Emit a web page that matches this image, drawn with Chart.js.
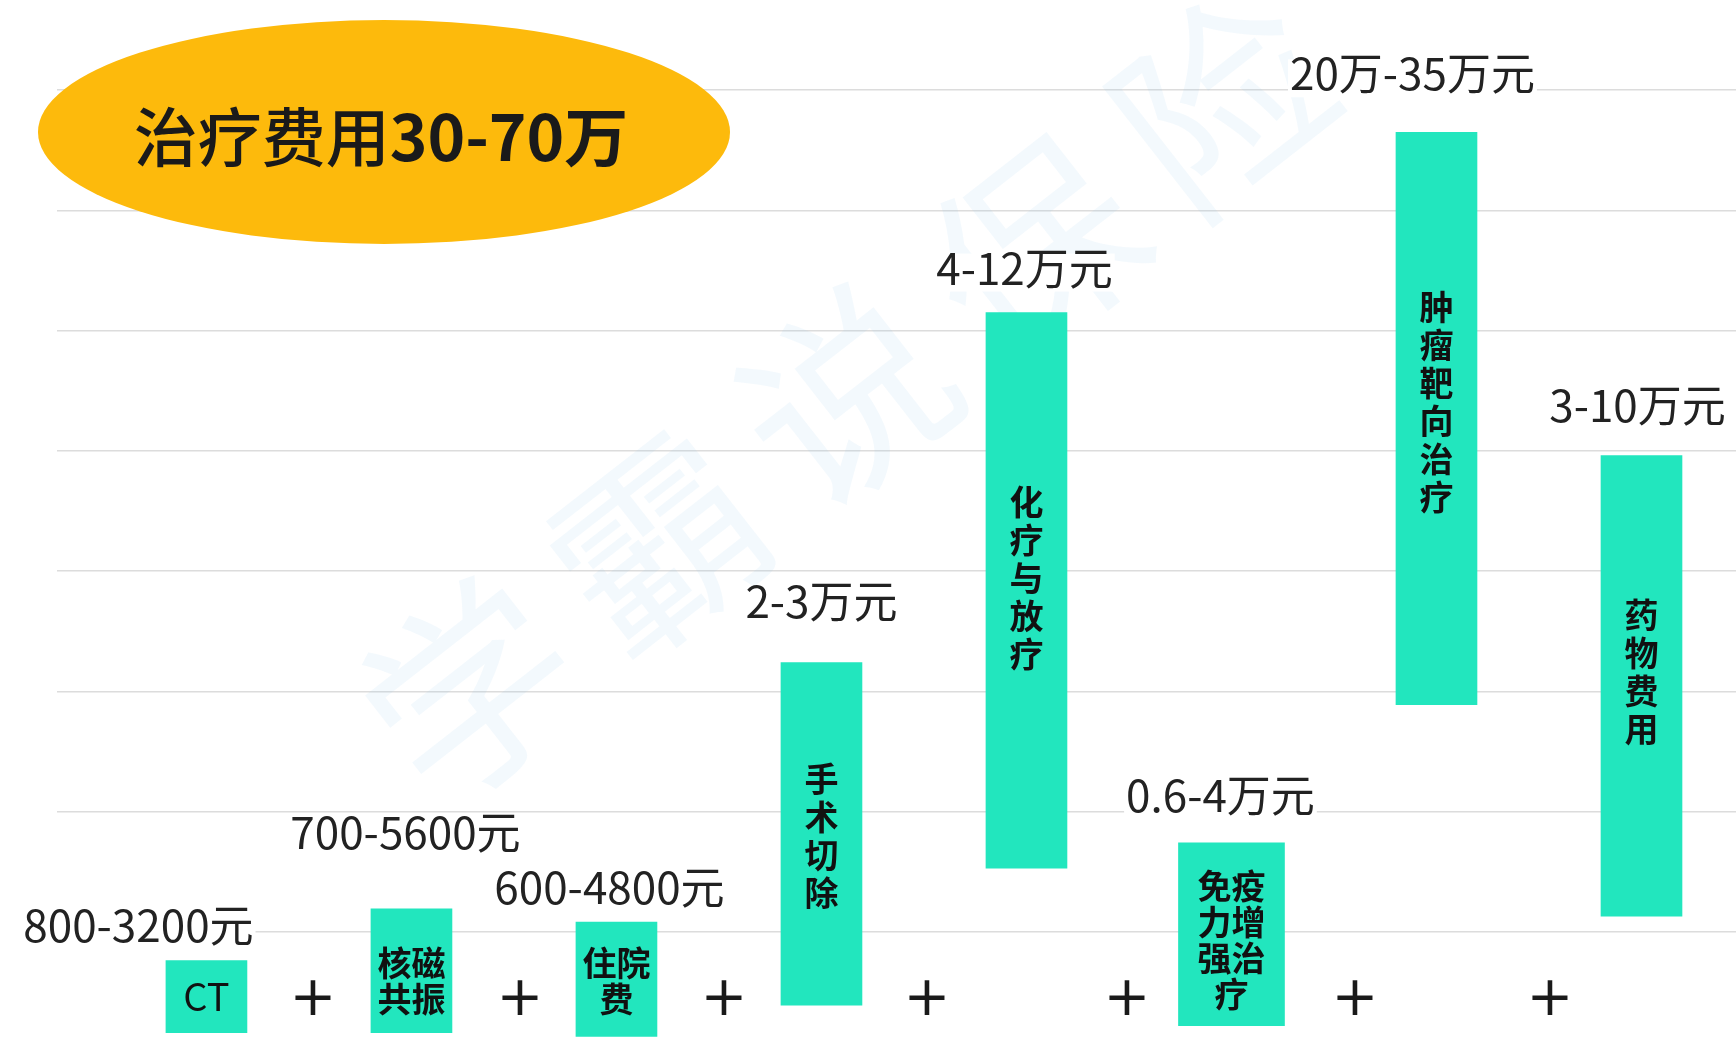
<!DOCTYPE html>
<html lang="zh-CN">
<head>
<meta charset="utf-8">
<title>治疗费用30-70万</title>
<script src="https://cdn.jsdelivr.net/npm/chart.js@4.4.1/dist/chart.umd.min.js"></script>
<style>
  html, body { margin: 0; padding: 0; background: #fff; overflow: hidden; }
  #wrap { position: relative; width: 1736px; height: 1046px; }
</style>
</head>
<body>
<div id="wrap"><canvas id="costChart"></canvas></div>
<script>
// 项目名称 (柱内文字, 每行一项)
const categories = [
  ['CT'], ['核磁', '共振'], ['住院', '费'], ['手', '术', '切', '除'],
  ['化', '疗', '与', '放', '疗'], ['免疫', '力增', '强治', '疗'],
  ['肿', '瘤', '靶', '向', '治', '疗'], ['药', '物', '费', '用']
];

// 费用区间文字
const costLabels = ['800-3200元', '700-5600元', '600-4800元', '2-3万元', '4-12万元', '0.6-4万元', '20万-35万元', '3-10万元'];

// 柱子的下沿 / 上沿 (网格单位)
const barLow = [0.16, 0.16, 0.13, 0.39, 1.53, 0.22, 2.89, 1.13];
const barHigh = [0.76, 1.19, 1.08, 3.24, 6.15, 1.74, 7.65, 4.96];

// 网格线
const gridTicks = [1, 2, 3, 4, 5, 6, 7, 8];

// 标题与水印
const titleMain = '治疗费用';
const titleBold = '30-70万';
const watermark = '学霸说保险';

// 较宽的柱子
const wideIndex = [5];

(function() {
  const canvas = document.getElementById('costChart');
  if (!canvas) return;

  const barColor = '#22e6be';
  const textColor = '#222';

  // 数据点
  const narrowPoints = [];
  const widePoints = [];
  categories.forEach((c, i) => {
    const p = { x: i, y: [barLow[i], barHigh[i]] };
    (wideIndex.includes(i) ? widePoints : narrowPoints).push(p);
  });

  // 文字位置微调: [dx, 基线距柱顶]
  const labelShift = [[-68, -19], [-6, -60], [-7, -18], [0, -44], [-2, -28], [-11, -31], [-24, -42], [-4, -34]];
  const innerShift = [0, 10, 2, 2, -12, 6, -16, -14];
  const plusNudge = [4, 6, 5, 3, -2, 21, 11];

  // 水印 (画在柱子下面)
  const watermarkPlugin = {
    id: 'watermark',
    beforeDatasetsDraw(chart) {
      const ctx = chart.ctx;
      ctx.save();
      ctx.fillStyle = 'rgba(150, 200, 240, 0.11)';
      ctx.font = '205px "Noto Sans CJK SC"';
      ctx.textAlign = 'center';
      ctx.textBaseline = 'middle';
      const chars = Array.from(watermark);
      chars.forEach((ch, k) => {
        ctx.save();
        ctx.translate(470 + k * 188, 690 - k * 147);
        ctx.rotate(-38 * Math.PI / 180);
        ctx.fillText(ch, 0, 0);
        ctx.restore();
      });
      ctx.restore();
    }
  };

  // 标注: 区间文字, 柱内文字, 加号, 标题
  const annotatePlugin = {
    id: 'annotate',
    afterDatasetsDraw(chart) {
      const ctx = chart.ctx;
      const xs = chart.scales.x;
      const ys = chart.scales.y;
      ctx.save();

      // 区间文字 (白底)
      ctx.font = '44px "Noto Sans CJK SC"';
      ctx.textAlign = 'center';
      ctx.textBaseline = 'alphabetic';
      costLabels.forEach((t, i) => {
        const cx = xs.getPixelForValue(i) + labelShift[i][0];
        const base = ys.getPixelForValue(barHigh[i]) + labelShift[i][1];
        const w = ctx.measureText(t).width;
        ctx.fillStyle = '#fff';
        ctx.fillRect(cx - w / 2 - 2, base - 31, w + 4, 38);
        ctx.fillStyle = textColor;
        ctx.fillText(t, cx, base);
      });

      // 柱内文字
      ctx.textBaseline = 'middle';
      ctx.fillStyle = '#111';
      categories.forEach((lines, i) => {
        const cx = xs.getPixelForValue(i);
        const cy = (ys.getPixelForValue(barHigh[i]) + ys.getPixelForValue(barLow[i])) / 2 + innerShift[i];
        const lineH = lines[0].length > 1 && lines.length > 1 ? 36 : 38;
        ctx.font = lines[0] === 'CT' ? '38px "Noto Sans CJK SC"' : 'bold 34px "Noto Sans CJK SC"';
        lines.forEach((t, k) => {
          ctx.fillText(t, cx, cy + (k - (lines.length - 1) / 2) * lineH);
        });
      });

      // 加号
      ctx.font = '56px "DejaVu Sans"';
      ctx.fillStyle = '#1a1a1a';
      for (let i = 0; i < categories.length - 1; i++) {
        const px = xs.getPixelForValue(i + 0.5) + plusNudge[i];
        ctx.fillText('+', px, 1000);
      }

      // 标题椭圆
      ctx.fillStyle = '#fdba0c';
      ctx.beginPath();
      ctx.ellipse(384, 132, 346, 112, 0, 0, Math.PI * 2);
      ctx.fill();

      ctx.fillStyle = '#1a1a1a';
      ctx.textAlign = 'left';
      ctx.font = '500 64px "Noto Sans CJK SC"';
      const w1 = ctx.measureText(titleMain).width;
      ctx.font = 'bold 64px "Noto Sans CJK SC"';
      const w2 = ctx.measureText(titleBold).width;
      const startX = 381 - (w1 + w2) / 2;
      ctx.font = '500 64px "Noto Sans CJK SC"';
      ctx.fillText(titleMain, startX, 137);
      ctx.font = 'bold 64px "Noto Sans CJK SC"';
      ctx.fillText(titleBold, startX + w1, 137);

      ctx.restore();
    }
  };

  new Chart(canvas, {
    type: 'bar',
    data: {
      datasets: [{
        label: 'cost',
        data: narrowPoints,
        backgroundColor: barColor,
        borderWidth: 0,
        barThickness: 81,
        grouped: false
      }, {
        label: 'cost-wide',
        data: widePoints,
        backgroundColor: barColor,
        borderWidth: 0,
        barThickness: 106,
        grouped: false
      }]
    },
    options: {
      responsive: true,
      maintainAspectRatio: false,
      animation: false,
      layout: {
        padding: { left: 57, right: 0, top: 0, bottom: 0 }
      },
      plugins: {
        legend: { display: false },
        tooltip: { enabled: false }
      },
      scales: {
        x: {
          type: 'linear',
          min: -0.729,
          max: 7.461,
          offset: false,
          display: false
        },
        y: {
          min: 0.05,
          max: 8.75,
          afterBuildTicks: function(axis) {
            axis.ticks = gridTicks.map(v => ({ value: v }));
          },
          afterFit: function(axis) {
            axis.width = 0;
          },
          ticks: { display: false },
          border: { display: false },
          grid: {
            color: '#dcdcdc',
            lineWidth: 1.5,
            drawTicks: false
          }
        }
      }
    },
    plugins: [watermarkPlugin, annotatePlugin]
  });
})();
</script>
</body>
</html>
